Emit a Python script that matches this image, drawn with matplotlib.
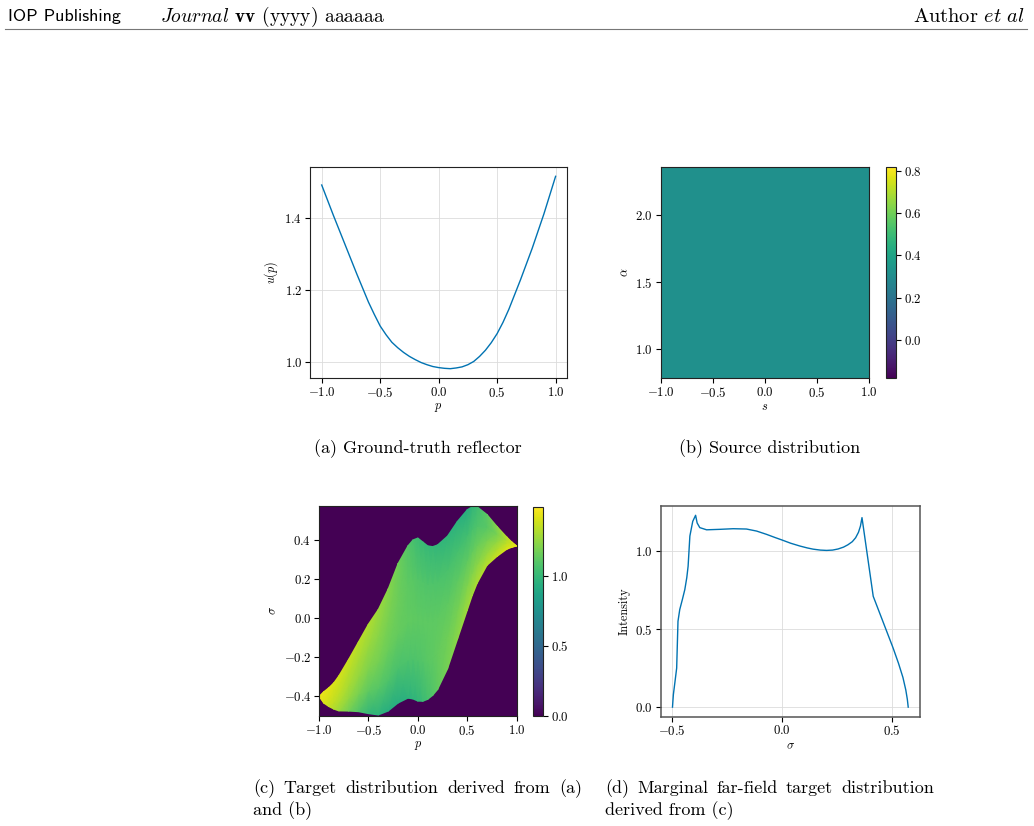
import numpy as np
import matplotlib
matplotlib.use('Agg')
import matplotlib.pyplot as plt
from matplotlib.colors import Normalize

# ---------------- data ----------------
# (a) ground-truth reflector u(p)
p_a = [-1.0, -0.9, -0.8, -0.7, -0.6, -0.55, -0.5, -0.45, -0.4, -0.35, -0.3, -0.25, -0.2,
       -0.15, -0.1, -0.05, 0.0, 0.05, 0.1, 0.15, 0.2, 0.25, 0.3, 0.35, 0.4, 0.45, 0.5,
       0.55, 0.6, 0.7, 0.8, 0.9, 1.0]
u_a = [1.490, 1.406, 1.325, 1.244, 1.166, 1.132, 1.100, 1.076, 1.055, 1.040, 1.027, 1.016,
       1.007, 0.999, 0.993, 0.988, 0.985, 0.983, 0.982, 0.984, 0.987, 0.993, 1.002, 1.016,
       1.033, 1.054, 1.079, 1.110, 1.146, 1.228, 1.315, 1.410, 1.514]

# (b) source distribution (constant)
s_range = [-1.0, 1.0]
alpha_range = [0.785, 2.356]
source_value = 0.318

# (c) target distribution: band between lower and upper boundary
p_c = [-1.0, -0.95, -0.9, -0.85, -0.8, -0.7, -0.6, -0.5, -0.4, -0.3, -0.2, -0.1, -0.05,
       0.0, 0.05, 0.1, 0.15, 0.2, 0.3, 0.4, 0.5, 0.55, 0.6, 0.7, 0.8, 0.9, 0.95, 1.0]
sigma_upper = [-0.400, -0.375, -0.355, -0.330, -0.295, -0.210, -0.120, -0.030, 0.045, 0.150,
               0.280, 0.370, 0.400, 0.410, 0.390, 0.370, 0.366, 0.375, 0.420, 0.495, 0.555,
               0.570, 0.570, 0.530, 0.470, 0.415, 0.390, 0.369]
sigma_lower = [-0.400, -0.435, -0.452, -0.465, -0.474, -0.475, -0.478, -0.488, -0.495, -0.475,
               -0.434, -0.409, -0.413, -0.424, -0.425, -0.415, -0.395, -0.365, -0.260, -0.110,
               0.040, 0.115, 0.178, 0.270, 0.315, 0.352, 0.362, 0.369]
# intensity across the band: rows = fraction from lower (0) to upper (1) boundary
p_nodes = [-1.0, -0.75, -0.5, -0.25, 0.0, 0.25, 0.5, 0.75, 1.0]
t_nodes = [0.0, 0.25, 0.5, 0.75, 1.0]
intensity_c = [
    [1.45, 1.22, 0.99, 0.92, 0.98, 1.16, 1.28, 1.34, 1.45],
    [1.45, 1.28, 1.12, 1.06, 1.08, 1.15, 1.20, 1.27, 1.45],
    [1.45, 1.32, 1.20, 1.14, 1.12, 1.12, 1.12, 1.19, 1.45],
    [1.45, 1.35, 1.26, 1.17, 1.09, 1.07, 1.04, 1.12, 1.45],
    [1.45, 1.38, 1.31, 1.20, 1.02, 0.98, 0.94, 1.16, 1.45],
]
c_vmin, c_vmax = 0.0, 1.49

# (d) marginal far-field target distribution
sigma_d = [-0.497, -0.493, -0.485, -0.478, -0.472, -0.464, -0.452, -0.441, -0.432, -0.426,
           -0.418, -0.405, -0.392, -0.385, -0.373, -0.342, -0.282, -0.221, -0.161, -0.115,
           -0.070, -0.030, 0.000, 0.040, 0.082, 0.115, 0.142, 0.175, 0.203, 0.230, 0.255,
           0.280, 0.300, 0.320, 0.335, 0.348, 0.357, 0.364, 0.415, 0.445, 0.475, 0.505,
           0.530, 0.550, 0.563, 0.570, 0.574]
intensity_d = [0.000, 0.080, 0.170, 0.250, 0.550, 0.625, 0.690, 0.753, 0.830, 0.903,
               1.096, 1.190, 1.229, 1.180, 1.150, 1.136, 1.139, 1.143, 1.141, 1.128,
               1.107, 1.086, 1.071, 1.050, 1.032, 1.020, 1.012, 1.006, 1.004, 1.006, 1.013,
               1.025, 1.040, 1.060, 1.085, 1.120, 1.160, 1.214, 0.710, 0.600, 0.490, 0.380,
               0.280, 0.190, 0.110, 0.050, 0.000]

xticks_p = [-1.0, -0.5, 0.0, 0.5, 1.0]
yticks_a = [1.0, 1.2, 1.4]
yticks_b = [1.0, 1.5, 2.0]
cticks_b = [0.0, 0.2, 0.4, 0.6, 0.8]
yticks_c = [-0.4, -0.2, 0.0, 0.2, 0.4]
cticks_c = [0.0, 0.5, 1.0]
xticks_d = [-0.5, 0.0, 0.5]
yticks_d = [0.0, 0.5, 1.0]

# ---------------- style ----------------
plt.rcParams['font.family'] = ['cmr10', 'DejaVu Sans']
plt.rcParams['mathtext.fontset'] = 'cm'
plt.rcParams['axes.formatter.use_mathtext'] = True
plt.rcParams['axes.unicode_minus'] = True

W, H = 1034, 826
fig = plt.figure(figsize=(W / 100, H / 100), dpi=100)
BLUE = '#0173b2'
TICK_FS = 9.2
LAB_FS = 8.8
CAP_FS = 13


def rect(x0, y0, x1, y1):
    return [x0 / W, 1 - y1 / H, (x1 - x0) / W, (y1 - y0) / H]


def style(ax, spine_col='#222222', lw=0.8):
    for sp in ax.spines.values():
        sp.set_color(spine_col)
        sp.set_linewidth(lw)
    ax.tick_params(labelsize=TICK_FS, length=3.5, width=0.8, direction='out', pad=2)


def style_cbar(cb):
    cb.outline.set_linewidth(0.8)
    cb.outline.set_edgecolor('#222222')
    cb.ax.tick_params(labelsize=TICK_FS, length=3.5, width=0.8, pad=2)


# (a)
ax_a = fig.add_axes(rect(310, 166.7, 567.3, 378.3))
ax_a.plot(p_a, u_a, color=BLUE, lw=1.0)
ax_a.set_xticks(xticks_p)
ax_a.set_yticks(yticks_a)
ax_a.grid(True, color='#dcdcdc', lw=0.6)
ax_a.set_axisbelow(True)
ax_a.set_xlabel('$p$', fontsize=LAB_FS, labelpad=1)
ax_a.set_ylabel('$u(p)$', fontsize=LAB_FS, labelpad=3)
style(ax_a)

# (b)
ax_b = fig.add_axes(rect(660.7, 167.3, 869.3, 378.3))
im_b = ax_b.imshow([[source_value, source_value], [source_value, source_value]],
                   extent=[s_range[0], s_range[1], alpha_range[0], alpha_range[1]],
                   aspect='auto', cmap='viridis', origin='lower',
                   vmin=source_value - 0.5, vmax=source_value + 0.5)
ax_b.set_xticks(xticks_p)
ax_b.set_yticks(yticks_b)
ax_b.set_xlabel('$s$', fontsize=LAB_FS, labelpad=1)
ax_b.set_ylabel(r'$\alpha$', fontsize=LAB_FS, labelpad=3)
style(ax_b)
cax_b = fig.add_axes(rect(885.7, 167.3, 896, 378.3))
cb_b = fig.colorbar(im_b, cax=cax_b, ticks=cticks_b)
style_cbar(cb_b)

# (c)
ax_c = fig.add_axes(rect(319, 505.7, 516.7, 716))
cmap = plt.get_cmap('viridis')
ax_c.set_facecolor(cmap(0.0))
pc = np.array(p_c)
lo = np.array(sigma_lower)
up = np.array(sigma_upper)
tn = np.array(t_nodes)
P = np.tile(pc, (len(tn), 1))
S = lo[None, :] + tn[:, None] * (up - lo)[None, :]
C = np.array([np.interp(pc, p_nodes, row) for row in intensity_c])
norm_c = Normalize(vmin=c_vmin, vmax=c_vmax)
mesh = ax_c.pcolormesh(P, S, C, shading='gouraud', cmap=cmap, norm=norm_c,
                       antialiased=False, rasterized=True)
ax_c.set_xlim(-1.0, 1.0)
ax_c.set_ylim(-0.5, 0.575)
ax_c.set_xticks(xticks_p)
ax_c.set_yticks(yticks_c)
ax_c.set_xlabel('$p$', fontsize=LAB_FS, labelpad=1)
ax_c.set_ylabel(r'$\sigma$', fontsize=LAB_FS, labelpad=3)
style(ax_c)
cax_c = fig.add_axes(rect(533.3, 506.7, 543.3, 716))
cb_c = fig.colorbar(mesh, cax=cax_c, ticks=cticks_c)
style_cbar(cb_c)

# (d)
ax_d = fig.add_axes(rect(660.7, 505.7, 920, 716.7))
ax_d.plot(sigma_d, intensity_d, color=BLUE, lw=1.0)
ax_d.set_xticks(xticks_d)
ax_d.set_yticks(yticks_d)
ax_d.grid(True, color='#dcdcdc', lw=0.6)
ax_d.set_axisbelow(True)
ax_d.set_xlabel(r'$\sigma$', fontsize=LAB_FS, labelpad=1)
ax_d.set_ylabel('Intensity', fontsize=LAB_FS, labelpad=3)
style(ax_d, spine_col='#555555', lw=1.1)

renderer = fig.canvas.get_renderer()


def fit_text(s, x0, x1, y, ha='left'):
    """Place text between x0 and x1 (pixels), scaling its size to span that width."""
    xa = x0 if ha == 'left' else x1
    t = fig.text(xa / W, 1 - y / H, s, fontsize=CAP_FS, ha=ha, va='baseline')
    w = t.get_window_extent(renderer).width
    t.set_fontsize(CAP_FS * (x1 - x0) / w)
    return t


# ---------------- page header ----------------
HB = 21.5
fig.text(8 / W, 1 - HB / H, 'IOP Publishing', family='cmss10', fontsize=CAP_FS,
         ha='left', va='baseline')
fit_text(r'$Journal$ $\mathbf{vv}$ (yyyy) aaaaaa', 160, 385, HB)
fit_text(r'Author $\mathit{et\ al}$', 913, 1025, HB, ha='right')
fig.add_artist(plt.Line2D([5 / W, 1027 / W], [1 - 28.5 / H, 1 - 28.5 / H],
                          color='#777777', lw=0.8, transform=fig.transFigure))

# ---------------- captions ----------------
fig.text(417.5 / W, 1 - 449 / H, '(a) Ground-truth reflector', fontsize=CAP_FS,
         ha='center', va='center')
fig.text(769.5 / W, 1 - 449 / H, '(b) Source distribution', fontsize=CAP_FS,
         ha='center', va='center')


def justified(words, x0, x1, y):
    ts = [fig.text(x0 / W, 1 - y / H, w, fontsize=CAP_FS, ha='left', va='center')
          for w in words]
    widths = [t.get_window_extent(renderer).width for t in ts]
    gap = ((x1 - x0) - sum(widths)) / (len(words) - 1)
    x = x0
    for t, w in zip(ts, widths):
        t.set_x(x / W)
        x += w + gap


justified('(c) Target distribution derived from (a)'.split(), 253, 582, 788.5)
fig.text(253 / W, 1 - 810.5 / H, 'and (b)', fontsize=CAP_FS, ha='left', va='center')
justified('(d) Marginal far-field target distribution'.split(), 605, 934, 788.5)
fig.text(605 / W, 1 - 810.5 / H, 'derived from (c)', fontsize=CAP_FS, ha='left', va='center')

fig.savefig('out.png', dpi=100, facecolor='white')
